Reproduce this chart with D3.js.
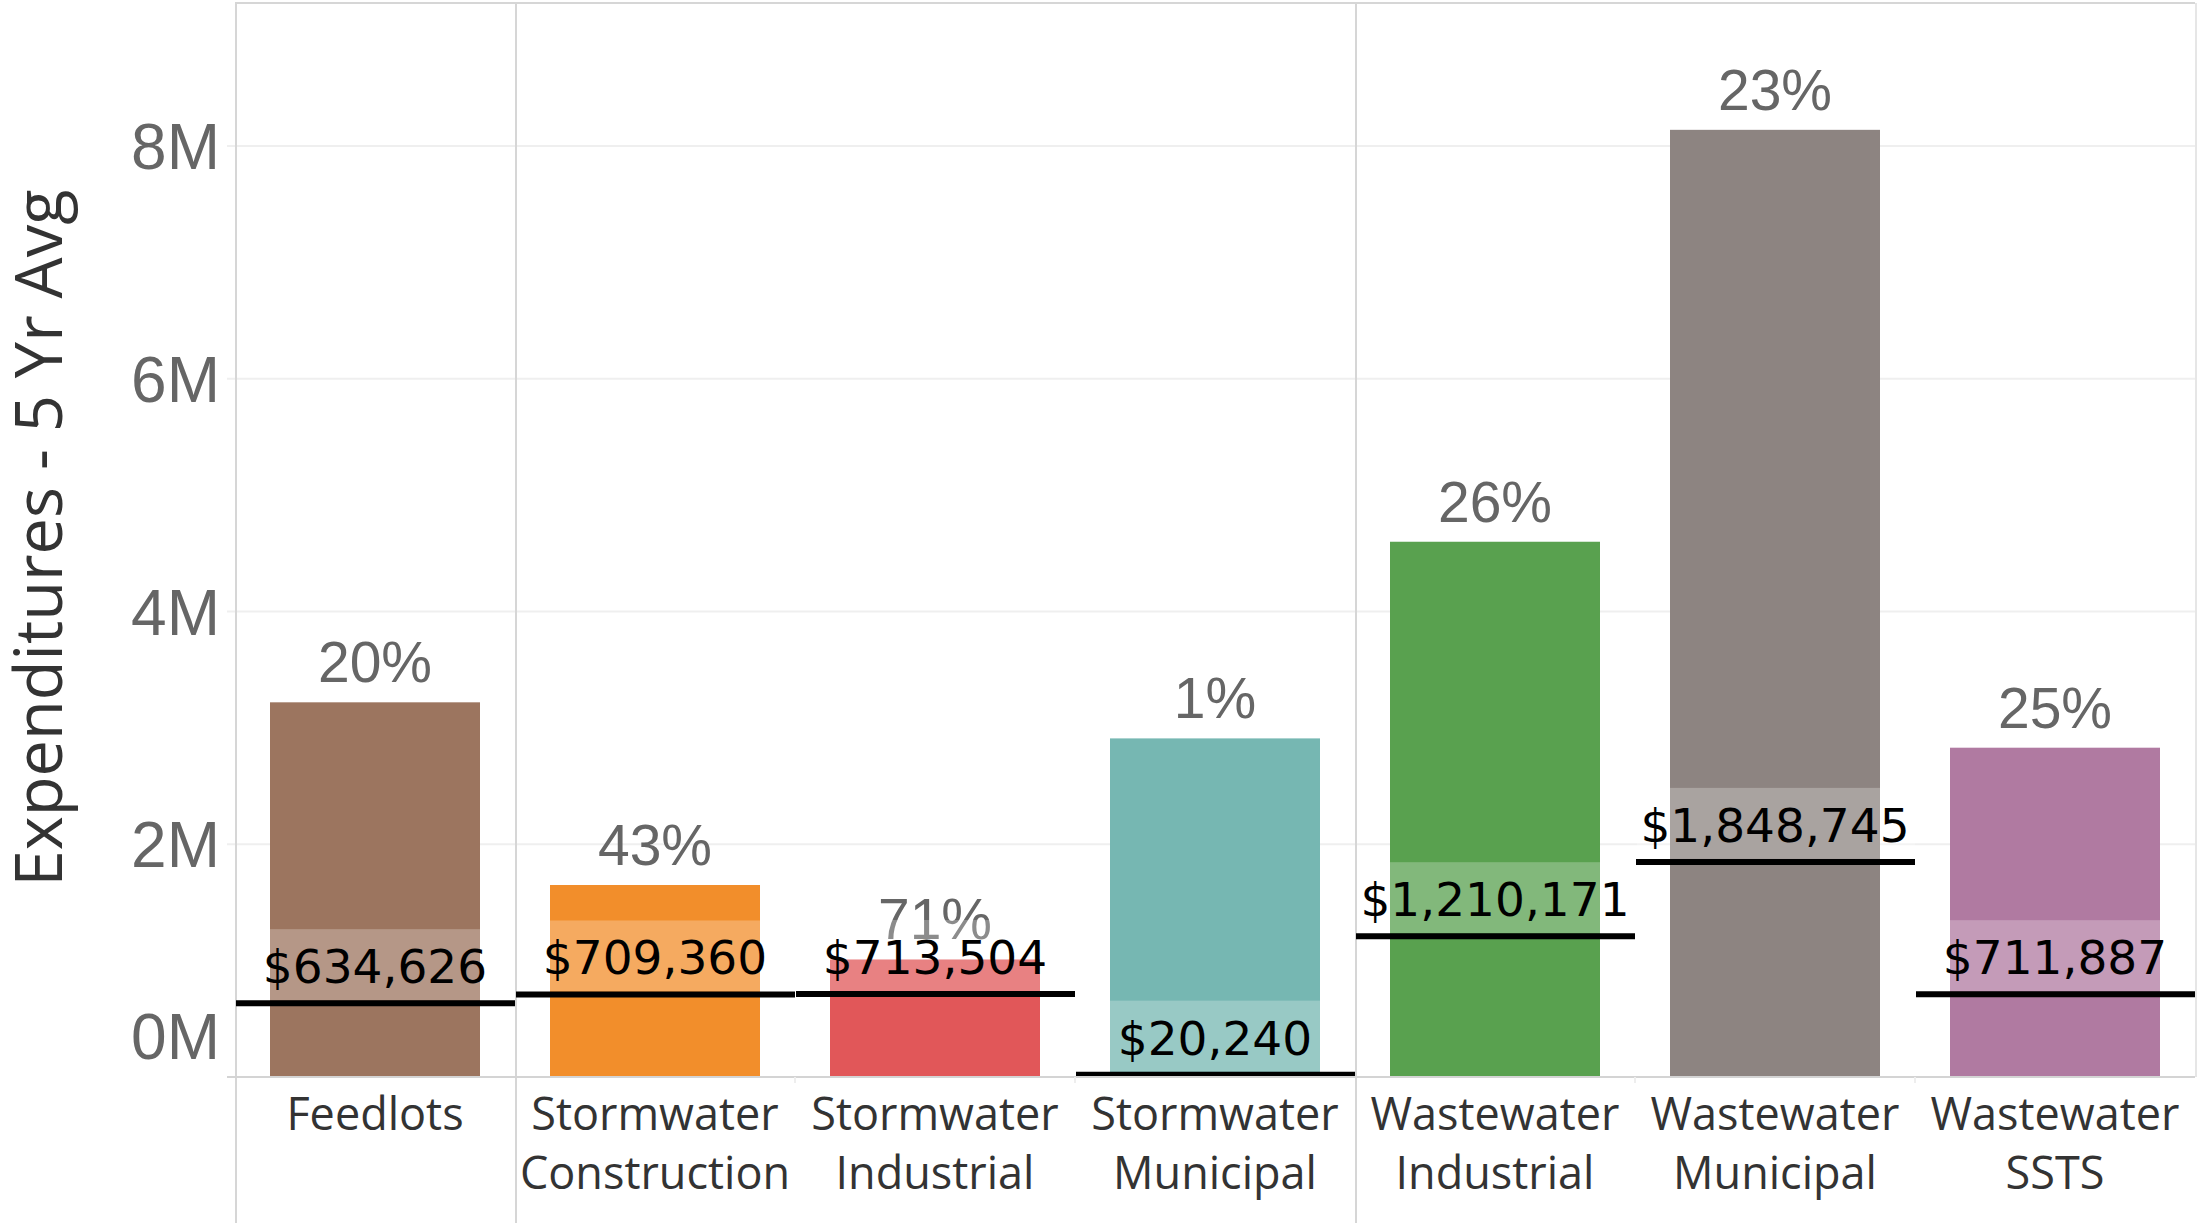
<!DOCTYPE html>
<html>
<head>
<meta charset="utf-8">
<script src="https://cdn.jsdelivr.net/npm/d3@7"></script>
<style>
  html, body { margin: 0; padding: 0; background: #fff; }
  svg { display: block; }
</style>
</head>
<body>
<svg id="chart" width="2208" height="1223"></svg>
<script>
// ---- data ----
const categories = ["Feedlots", "Stormwater Construction", "Stormwater Industrial", "Stormwater Municipal",
                    "Wastewater Industrial", "Wastewater Municipal", "Wastewater SSTS"];
const labelLines = [["Feedlots"], ["Stormwater", "Construction"], ["Stormwater", "Industrial"], ["Stormwater", "Municipal"],
                    ["Wastewater", "Industrial"], ["Wastewater", "Municipal"], ["Wastewater", "SSTS"]];
const expenditures = [3220000, 1650000, 1010000, 2910000, 4600000, 8140000, 2830000];
const averages = [634626, 709360, 713504, 20240, 1210171, 1848745, 711887];
const percents = ["20%", "43%", "71%", "1%", "26%", "23%", "25%"];
const colors = ["#9c755f", "#f28e2b", "#e15759", "#76b7b2", "#59a14f", "#8d8481", "#b07aa1"];
const groupDividers = ["Stormwater Construction", "Wastewater Industrial"];
const yTicks = [0, 2000000, 4000000, 6000000, 8000000];
const yTickLabels = ["0M", "2M", "4M", "6M", "8M"];
const yTitle = "Expenditures - 5 Yr Avg";

(function () {
// ---- layout ----
const svg = d3.select("#chart");
const pLeft = 235, pRight = 2195, pTop = 3, pBottom = 1077;
const x = d3.scaleBand().domain(categories).range([pLeft, pRight]).padding(0);
const y = d3.scaleLinear().domain([0, 9230000]).range([pBottom, pTop]);
const barW = x.bandwidth() * 0.75;

// gridlines
svg.append("g").selectAll("line").data(yTicks.filter(d => d > 0)).join("line")
  .attr("x1", pLeft - 8).attr("x2", pRight)
  .attr("y1", d => y(d)).attr("y2", d => y(d))
  .attr("stroke", "#efefef").attr("stroke-width", 2);

// borders
svg.append("line").attr("x1", pLeft).attr("x2", pRight).attr("y1", pTop).attr("y2", pTop)
  .attr("stroke", "#d6d6d6").attr("stroke-width", 2);
svg.append("line").attr("x1", pLeft + 1).attr("x2", pLeft + 1).attr("y1", pTop).attr("y2", 1223)
  .attr("stroke", "#d6d6d6").attr("stroke-width", 2);
svg.append("line").attr("x1", pRight + 1).attr("x2", pRight + 1).attr("y1", pTop).attr("y2", pBottom)
  .attr("stroke", "#e6e6e6").attr("stroke-width", 2);
svg.append("g").selectAll("line").data(groupDividers).join("line")
  .attr("x1", d => x(d) + 1).attr("x2", d => x(d) + 1).attr("y1", pTop).attr("y2", 1223)
  .attr("stroke", "#d6d6d6").attr("stroke-width", 2);

// bars
const g = svg.append("g");
categories.forEach((c, i) => {
  const cx = x(c) + x.bandwidth() / 2;
  g.append("rect")
    .attr("x", cx - barW / 2).attr("width", barW)
    .attr("y", y(expenditures[i])).attr("height", pBottom - y(expenditures[i]))
    .attr("fill", colors[i]);
});

// percent labels
categories.forEach((c, i) => {
  const cx = x(c) + x.bandwidth() / 2;
  g.append("text")
    .attr("x", cx).attr("y", y(expenditures[i]) - 20)
    .attr("text-anchor", "middle")
    .attr("font-family", "'Liberation Sans', Arial, sans-serif")
    .attr("font-size", 57).attr("fill", "#666")
    .text(percents[i]);
});

// reference line label boxes, lines and labels
categories.forEach((c, i) => {
  const x0 = x(c), ly = y(averages[i]);
  const boxTop = Math.max(pTop, ly - 74);
  g.append("rect")
    .attr("x", x0 + 2).attr("width", x.bandwidth() - 2)
    .attr("y", boxTop).attr("height", ly - 3 - boxTop)
    .attr("fill", "#fff").attr("fill-opacity", 0.25);
  g.append("line")
    .attr("x1", x0 + 1).attr("x2", x0 + x.bandwidth())
    .attr("y1", ly).attr("y2", ly)
    .attr("stroke", "#000").attr("stroke-width", 6);
  g.append("text")
    .attr("x", x0 + x.bandwidth() / 2).attr("y", ly - 20)
    .attr("text-anchor", "middle")
    .attr("font-family", "'DejaVu Sans', Verdana, sans-serif")
    .attr("font-size", 47).attr("fill", "#000")
    .text(d3.format("$,")(averages[i]));
});

// x axis line and small ticks
svg.append("line").attr("x1", pLeft - 8).attr("x2", pRight).attr("y1", pBottom).attr("y2", pBottom)
  .attr("stroke", "#d4d4d4").attr("stroke-width", 2);
svg.append("g").selectAll("line").data(categories.slice(1).filter(c => !groupDividers.includes(c))).join("line")
  .attr("x1", d => x(d)).attr("x2", d => x(d)).attr("y1", pBottom).attr("y2", pBottom + 6)
  .attr("stroke", "#eeeeee").attr("stroke-width", 2);

// category labels
const xl = svg.append("g");
categories.forEach((c, i) => {
  const t = xl.append("text")
    .attr("text-anchor", "middle")
    .attr("font-family", "'Open Sans', sans-serif")
    .attr("font-size", 45).attr("fill", "#333");
  labelLines[i].forEach((ln, j) => {
    t.append("tspan").attr("x", x(c) + x.bandwidth() / 2).attr("y", 1130 + j * 59).text(ln);
  });
});

// y tick labels
svg.append("g").selectAll("text").data(yTicks).join("text")
  .attr("x", 220)
  .attr("y", d => d === 0 ? y(d) - 18 : y(d) + 23)
  .attr("text-anchor", "end")
  .attr("font-family", "'Liberation Sans', Arial, sans-serif")
  .attr("font-size", 64).attr("fill", "#666")
  .text((d, i) => yTickLabels[i]);

// y title
svg.append("text")
  .attr("transform", "translate(62,538) rotate(-90)")
  .attr("text-anchor", "middle")
  .attr("font-family", "'Open Sans', sans-serif")
  .attr("font-size", 65).attr("fill", "#333")
  .text(yTitle);
})();
</script>
</body>
</html>
